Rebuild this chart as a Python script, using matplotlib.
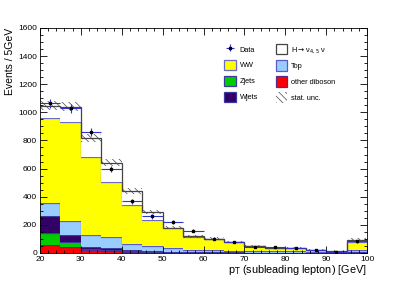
import numpy as np
import matplotlib
matplotlib.use("Agg")
import matplotlib.pyplot as plt
from matplotlib.patches import Patch
from matplotlib.ticker import MultipleLocator

# bin edges, 5 GeV bins
edges = np.arange(20, 105, 5)
centers = edges[:-1] + 2.5

# stacked backgrounds (events per bin)
other_diboson = [55, 43, 19, 12, 7, 5, 4, 3, 2, 2, 1, 1, 1, 1, 0, 2]
zjets = [87, 35, 9, 7, 5, 2, 2, 1, 1, 1, 1, 1, 1, 1, 0, 1]
wjets = [119, 52, 15, 17, 7, 5, 3, 2, 2, 1, 1, 1, 1, 1, 1, 2]
top = [94, 100, 87, 78, 45, 35, 29, 18, 14, 13, 9, 11, 14, 4, 3, 19]
ww = [605, 701, 553, 388, 275, 186, 137, 90, 81, 59, 35, 19, 16, 12, 4, 54]
higgs = [88, 107, 135, 138, 104, 58, 5, 4, 2, 2, 5, 5, 3, 5, 3, 17]
stat_unc = [32, 32, 29, 25, 21, 17, 13, 11, 10, 9, 7, 6, 6, 5, 3, 10]

data = [1065, 1030, 858, 597, 367, 260, 220, 159, 100, 78, 43, 40, 38, 19, 9, 83]
data_err = [33, 32, 29, 24, 19, 16, 15, 13, 10, 9, 7, 6, 6, 4, 3, 9]

plt.rcParams['font.family'] = ['Liberation Sans', 'DejaVu Sans']
plt.rcParams['hatch.color'] = '#444444'
plt.rcParams['hatch.linewidth'] = 0.5

fig = plt.figure(figsize=(4.07, 2.82), dpi=100)
ax = fig.add_axes([0.098, 0.103, 0.804, 0.798])

hname = r'H$\rightarrow$ν$_{4,5}$ ν'
layers = [
    (other_diboson, '#ff0000', '#5a2a8a', 'other diboson'),
    (zjets, '#00cc00', '#3a3aa0', 'Zjets'),
    (wjets, '#330066', '#3a3aa0', 'Wjets'),
    (top, '#99ccff', '#5a5ac8', 'Top'),
    (ww, '#ffff00', '#6a6ac8', 'WW'),
    (higgs, '#ffffff', '#444444', hname),
]

base = np.zeros(len(centers))
handles = {}
for vals, fc, ec, name in layers:
    vals = np.array(vals, dtype=float)
    ax.stairs(base + vals, edges, baseline=base, fill=True, color=fc, lw=0)
    ax.stairs(base + vals, edges, baseline=None, color=ec, lw=0.9)
    handles[name] = Patch(facecolor=fc, edgecolor=ec, lw=0.9)
    base = base + vals

total = base
unc = np.array(stat_unc, dtype=float)
hatch = '\\' * 5
ax.stairs(total + unc, edges, baseline=total - unc, fill=True,
          facecolor='none', hatch=hatch, lw=0)
handles['stat. unc.'] = Patch(facecolor='none', hatch=hatch, lw=0)

eb = ax.errorbar(centers, data, xerr=2.5, yerr=data_err, fmt='s', ms=1.8,
                 color='black', ecolor='#3333cc', elinewidth=0.8, capsize=0)

hl = [eb, handles['WW'], handles['Zjets'], handles['Wjets'],
      handles[hname], handles['Top'],
      handles['other diboson'], handles['stat. unc.']]
ll = ['Data', 'WW', 'Zjets', 'Wjets',
      hname, 'Top', 'other diboson', 'stat. unc.']
ax.legend(hl, ll, ncol=2, loc='upper left', bbox_to_anchor=(0.545, 0.955),
          frameon=False, fontsize=5.3, handlelength=1.6, handleheight=1.8,
          columnspacing=2.4, labelspacing=0.75, handletextpad=0.5,
          borderpad=0.3)

ax.set_xlim(20, 100)
ax.set_ylim(0, 1600)
ax.xaxis.set_major_locator(MultipleLocator(10))
ax.xaxis.set_minor_locator(MultipleLocator(2))
ax.yaxis.set_major_locator(MultipleLocator(200))
ax.yaxis.set_minor_locator(MultipleLocator(50))
ax.tick_params(which='both', direction='in', top=True, right=True,
               labelsize=6, width=0.6, pad=2)
ax.tick_params(which='major', length=5)
ax.tick_params(which='minor', length=2.5)
for s in ax.spines.values():
    s.set_linewidth(0.6)

ax.set_xlabel(r'p$_{\mathrm{T}}$ (subleading lepton) [GeV]', fontsize=7.8,
              loc='right', labelpad=0)
ax.set_ylabel('Events / 5GeV', fontsize=7.5, loc='top', labelpad=2)

fig.savefig('out.png', dpi=100)
